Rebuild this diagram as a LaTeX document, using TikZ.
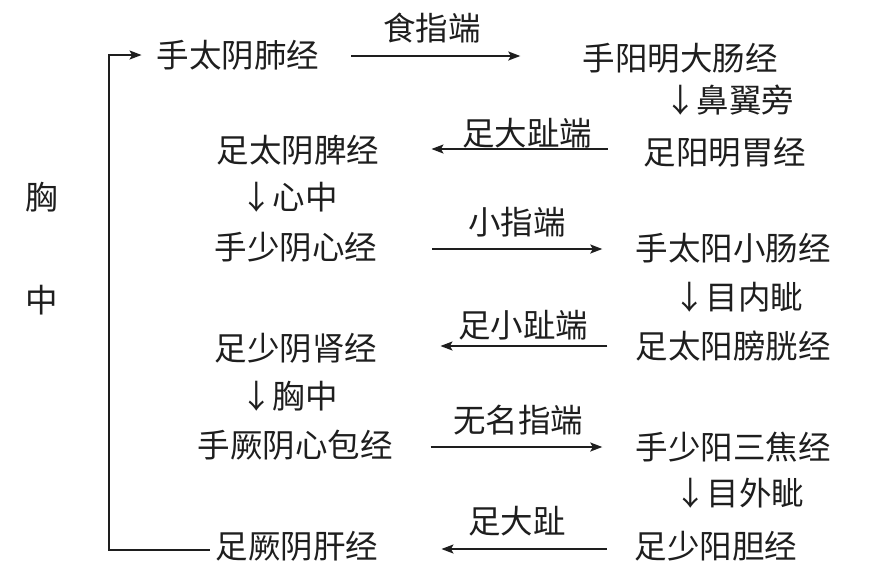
\documentclass[tikz,border=0pt]{standalone}
\usepackage{fontspec}
\setmainfont{Noto Sans CJK SC}
\usetikzlibrary{arrows.meta}
\definecolor{ink}{HTML}{1E1E1E}
\tikzset{
  lbl/.style={inner sep=0pt, text=ink, font=\fontsize{32.5}{32.5}\selectfont, text height=28pt, text depth=4pt},
  conn/.style={draw=ink, line width=1.8pt, -{Stealth[length=12pt,width=9pt,inset=2.5pt]}},
}
\begin{document}
\begin{tikzpicture}[x=1pt,y=-1pt]
\useasboundingbox (0,0) rectangle (869,582);
% meridians
\node[lbl] (m1) at (238,55) {手太阴肺经};
\node[lbl] (m2) at (680,58) {手阳明大肠经};
\node[lbl] (m3) at (725,152) {足阳明胃经};
\node[lbl] (m4) at (298,150) {足太阴脾经};
\node[lbl] (m5) at (296,247) {手少阴心经};
\node[lbl] (m6) at (733,248) {手太阳小肠经};
\node[lbl] (m7) at (733,346) {足太阳膀胱经};
\node[lbl] (m8) at (296,348) {足少阴肾经};
\node[lbl] (m9) at (295,445) {手厥阴心包经};
\node[lbl] (m10) at (733,447) {手少阳三焦经};
\node[lbl] (m11) at (716,546) {足少阳胆经};
\node[lbl] (m12) at (297,546) {足厥阴肝经};
% down-arrow labels
\node[lbl, anchor=west] (d1) at (664,100) {↓鼻翼旁};
\node[lbl, anchor=west] (d2) at (240,197) {↓心中};
\node[lbl, anchor=west] (d3) at (673,297) {↓目内眦};
\node[lbl, anchor=west] (d4) at (240,396) {↓胸中};
\node[lbl, anchor=west] (d5) at (674,493) {↓目外眦};
% arrow labels
\node[lbl] (t1) at (432,28) {食指端};
\node[lbl] (t2) at (527,133) {足大趾端};
\node[lbl] (t3) at (517,222) {小指端};
\node[lbl] (t4) at (523,325) {足小趾端};
\node[lbl] (t5) at (518,420) {无名指端};
\node[lbl] (t6) at (517,521) {足大趾};
% side text
\node[lbl] (x1) at (42,197) {胸};
\node[lbl] (x2) at (42,300) {中};
\coordinate (bx) at (109,300);
% connectors
\draw[conn, shorten <=32pt, shorten >=62pt] ([yshift=-1pt]m1.east) -- ([yshift=-1pt]m1.east -| m2.west);
\draw[conn, shorten <=36pt, shorten >=52pt] ([yshift=3pt]m3.west) -- ([yshift=3pt]m3.west -| m4.east);
\draw[conn, shorten <=55pt, shorten >=33pt] ([yshift=-2pt]m5.east) -- ([yshift=-2pt]m5.east -| m6.west);
\draw[conn, shorten <=28pt, shorten >=63pt] (m7.west) -- (m7.west -| m8.east);
\draw[conn, shorten <=38pt, shorten >=33pt] ([yshift=-2pt]m9.east) -- ([yshift=-2pt]m9.east -| m10.west);
\draw[conn, shorten <=28pt, shorten >=63pt] ([yshift=-3pt]m11.west) -- ([yshift=-3pt]m11.west -| m12.east);
% left bracket
\draw[conn, shorten <=6pt, shorten >=15pt] ([yshift=-4pt]m12.west) -| (bx |- m1.west) -- (m1.west);
\end{tikzpicture}
\end{document}
